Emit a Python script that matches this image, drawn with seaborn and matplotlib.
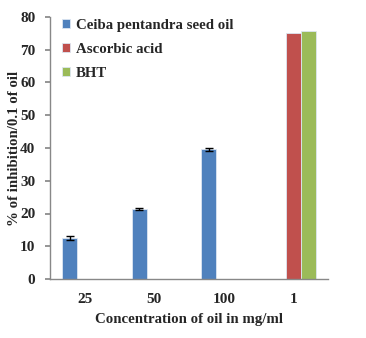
import numpy as np
import pandas as pd
import matplotlib
matplotlib.use("Agg")
import matplotlib.pyplot as plt
import seaborn as sns

# values
concentrations = ["25", "50", "100", "1"]
ceiba = [12.5, 21.3, 39.6, np.nan]
ceiba_err = [0.5, 0.3, 0.4, np.nan]
ascorbic = [np.nan, np.nan, np.nan, 75.0]
bht = [np.nan, np.nan, np.nan, 75.6]
series = ["Ceiba pentandra seed oil", "Ascorbic acid", "BHT"]
colors = ["#4F81BD", "#C0504D", "#9BBB59"]

rows = []
for name, vals in zip(series, [ceiba, ascorbic, bht]):
    for c, v in zip(concentrations, vals):
        rows.append({"conc": c, "series": name, "value": v})
df = pd.DataFrame(rows)

sns.set_theme(style="white")
plt.rcParams["font.family"] = ["Liberation Serif", "DejaVu Serif"]
plt.rcParams["font.weight"] = "bold"

fig = plt.figure(figsize=(3.66, 3.38), dpi=100)
ax = fig.add_axes([50 / 366, 59 / 338, 278 / 366, 262 / 338])

sns.barplot(data=df, x="conc", y="value", hue="series", order=concentrations,
            hue_order=series, palette=colors, width=0.645, errorbar=None,
            saturation=1, edgecolor="#dce6f2", linewidth=0.6, ax=ax)

# error bars on the seed oil bars
xs = np.arange(len(concentrations)) - 0.645 / 3
ax.errorbar(xs, ceiba, yerr=ceiba_err, fmt="none", ecolor="black",
            elinewidth=1, capsize=3, capthick=1)

ax.set_xlim(-0.5, 3.5)
ax.set_ylim(0, 80)
ax.set_yticks(range(0, 81, 10))
ax.set_xlabel("Concentration of oil in mg/ml", fontsize=10.7, fontweight="bold", labelpad=5)
ax.set_ylabel("% of inhibition/0.1 of oil", fontsize=10.7, fontweight="bold")
ax.yaxis.set_label_coords(-0.104, 0.5)
ax.tick_params(axis="y", length=3.5, color="#888888", labelsize=11, pad=7, left=True)
ax.tick_params(axis="x", length=0, labelsize=11, pad=10)
for lab in ax.get_xticklabels() + ax.get_yticklabels():
    lab.set_fontweight("bold")

sns.despine(ax=ax)
for s in ["left", "bottom"]:
    ax.spines[s].set_color("#888888")
    ax.spines[s].set_linewidth(1)

ax.legend(loc="upper left", bbox_to_anchor=(-0.005, 1.045), frameon=False,
          prop={"weight": "bold", "size": 10.7}, handlelength=0.55,
          handleheight=0.55, handletextpad=0.4, labelspacing=0.75)

fig.savefig("out.png", dpi=100)
